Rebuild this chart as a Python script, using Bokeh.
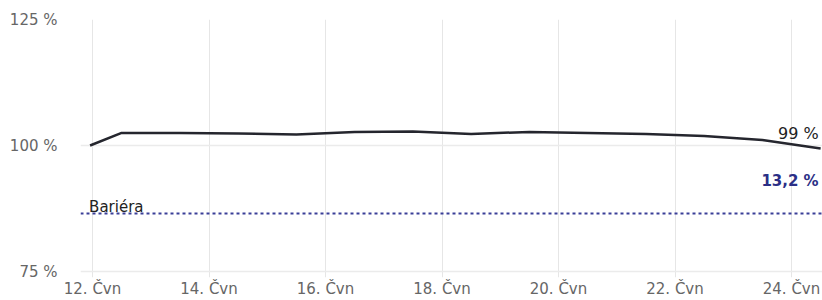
import pandas as pd
from bokeh.plotting import figure
from bokeh.models import Range1d, FixedTicker, Span, Label
from bokeh.embed import file_html
from bokeh.resources import INLINE

# ---- data ----
dates = ["2024-06-11 23:00", "2024-06-12 12:00", "2024-06-13 12:00", "2024-06-14 12:00",
         "2024-06-15 12:00", "2024-06-16 12:00", "2024-06-17 12:00", "2024-06-18 12:00",
         "2024-06-19 12:00", "2024-06-20 12:00", "2024-06-21 12:00", "2024-06-22 12:00",
         "2024-06-23 12:00", "2024-06-24 12:00"]
values = [100.0, 102.5, 102.5, 102.4, 102.2, 102.7, 102.8, 102.3, 102.7, 102.5, 102.3,
          101.9, 101.1, 99.4]
barrier = 86.5
barrier_label = "Bariéra"
last_label = "99 %"
gap_label = "13,2 %"
x_tick_dates = ["2024-06-12", "2024-06-14", "2024-06-16", "2024-06-18",
                "2024-06-20", "2024-06-22", "2024-06-24"]
x_tick_labels = ["12. Čvn", "14. Čvn", "16. Čvn", "18. Čvn", "20. Čvn", "22. Čvn", "24. Čvn"]
y_ticks = [75, 100, 125]
y_tick_labels = ["75 %", "100 %", "125 %"]

# ---- derived ----
xs = pd.to_datetime(dates)
x_tick_ms = [int(pd.Timestamp(d).value // 10**6) for d in x_tick_dates]
x_start = pd.Timestamp("2024-06-11 19:03")
x_end = pd.Timestamp("2024-06-24 12:46")

FONT = "DejaVu Sans"

p = figure(width=822, height=300, x_axis_type="datetime",
           x_range=Range1d(x_start, x_end), y_range=Range1d(73.81, 125),
           output_backend="svg", toolbar_location=None,
           min_border_left=80, min_border_right=0, min_border_top=19, min_border_bottom=17)
p.outline_line_color = None
p.background_fill_color = "white"
p.border_fill_color = "white"

# grid
p.xgrid.ticker = FixedTicker(ticks=x_tick_ms)
p.ygrid.ticker = FixedTicker(ticks=y_ticks)
p.xgrid.grid_line_color = "#e6e6e6"
p.ygrid.grid_line_color = "#ebebeb"
p.xgrid.grid_line_width = 1
p.ygrid.grid_line_width = 1.5

# axes
xa = p.xaxis[0]
xa.ticker = FixedTicker(ticks=x_tick_ms)
xa.major_label_overrides = {t: l for t, l in zip(x_tick_ms, x_tick_labels)}
ya = p.yaxis[0]
ya.ticker = FixedTicker(ticks=y_ticks)
ya.major_label_overrides = {t: l for t, l in zip(y_ticks, y_tick_labels)}
for ax in (xa, ya):
    ax.axis_line_color = None
    ax.major_tick_line_color = None
    ax.minor_tick_line_color = None
    ax.major_tick_out = 0
    ax.major_tick_in = 0
    ax.minor_tick_out = 0
    ax.minor_tick_in = 0
    ax.major_label_text_font = FONT
    ax.major_label_text_font_size = "15px"
    ax.major_label_text_color = "#666666"
xa.major_label_standoff = 2
ya.major_label_standoff = 23

# barrier
p.add_layout(Span(location=barrier, dimension="width", line_color="#3a3f98",
                  line_width=2, line_dash="3 3"))

# series
p.line(xs, values, line_color="#25262e", line_width=2.5, line_join="round")

# labels
p.add_layout(Label(x=xs[0], y=barrier, text=barrier_label, x_offset=-1, y_offset=7,
                   text_font=FONT, text_font_size="15px", text_color="#222222",
                   text_baseline="alphabetic", text_align="left"))
p.add_layout(Label(x=xs[-1], y=values[-1], text=last_label, x_offset=-2, y_offset=15,
                   text_font=FONT, text_font_size="16px", text_color="#222222",
                   text_baseline="alphabetic", text_align="right"))
p.add_layout(Label(x=xs[-1], y=barrier, text=gap_label, x_offset=-2, y_offset=33,
                   text_font=FONT, text_font_size="15px", text_font_style="bold",
                   text_color="#2b2f86", text_baseline="alphabetic", text_align="right"))

open("out.html", "w").write(file_html(p, INLINE))
